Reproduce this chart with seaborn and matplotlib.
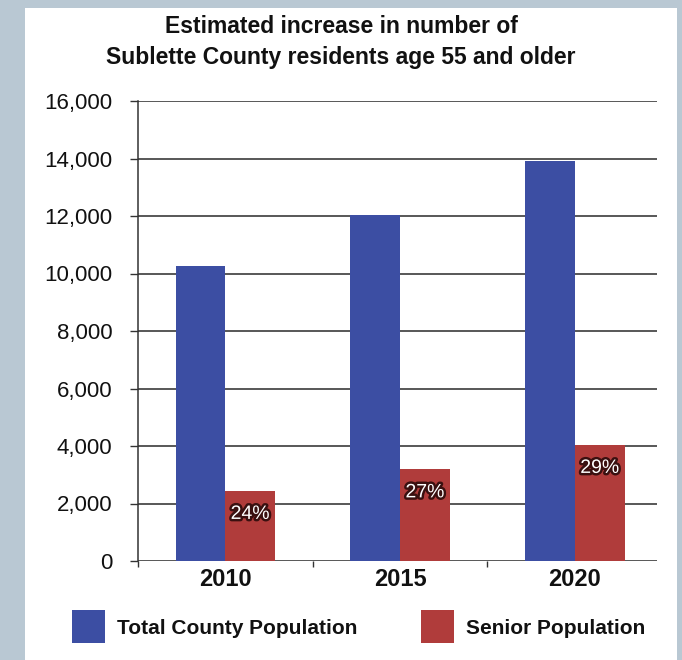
import seaborn as sns
import matplotlib.pyplot as plt
import matplotlib.patheffects as pe
from matplotlib.patches import Rectangle
import pandas as pd

years = ['2010', '2015', '2020']
total_pop = [10250, 12050, 13900]
senior_pop = [2450, 3200, 4050]
senior_pct = ['24%', '27%', '29%']
series_names = ['Total County Population', 'Senior Population']
y_ticks = [0, 2000, 4000, 6000, 8000, 10000, 12000, 14000, 16000]

df = pd.DataFrame({
    'year': years * 2,
    'value': total_pop + senior_pop,
    'series': [series_names[0]] * 3 + [series_names[1]] * 3,
})

sns.set_style('white')
plt.rcParams['font.family'] = ['Liberation Sans', 'DejaVu Sans']
plt.rcParams['text.color'] = '#111111'
plt.rcParams['xtick.color'] = '#111111'
plt.rcParams['ytick.color'] = '#111111'

fig = plt.figure(figsize=(6.82, 6.6), dpi=100)
fig.patch.set_facecolor('#b9c8d3')
# white card on the grey-blue page
fig.patches.append(Rectangle((25 / 682, 0), 652 / 682, 652 / 660,
                             transform=fig.transFigure, facecolor='white',
                             edgecolor='none', zorder=-10))

ax = fig.add_axes([138 / 682, 1 - 561 / 660, (657 - 138) / 682, (561 - 101) / 660])
ax.set_facecolor('none')

palette = {series_names[0]: '#3c4ea3', series_names[1]: '#b03c3b'}
sns.barplot(data=df, x='year', y='value', hue='series', palette=palette,
            width=0.57, saturation=1, ax=ax, legend=False, zorder=3,
            linewidth=0, edgecolor='none')

ax.set_xlim(-0.5, 2.47)
ax.set_ylim(0, 16000)
ax.set_yticks(y_ticks)
ax.set_yticklabels([f'{v:,}' for v in y_ticks], fontsize=16)
ax.yaxis.grid(True, color='#2a2a2a', linewidth=1.1, zorder=0)
ax.set_axisbelow(True)

ax.set_xticks([0, 1, 2])
ax.set_xticklabels(years, fontsize=17, fontweight='bold')
ax.set_xticks([-0.5, 0.5, 1.5], minor=True)
ax.tick_params(axis='x', which='major', length=0, pad=5)
ax.tick_params(axis='x', which='minor', bottom=True, length=4, width=1,
               direction='out', color='#333333')
ax.tick_params(axis='y', left=True, length=5.5, width=1, direction='out',
               color='#333333', pad=13)
ax.set_xlabel('')
ax.set_ylabel('')

for s in ['top', 'right', 'bottom']:
    ax.spines[s].set_visible(False)
ax.spines['left'].set_color('#333333')
ax.spines['left'].set_linewidth(1.1)

# percent labels inside the senior bars
red_bars = ax.containers[1]
for bar, pct in zip(red_bars, senior_pct):
    ax.text(bar.get_x() + bar.get_width() / 2, bar.get_height() - 830, pct,
            ha='center', va='center', color='white', fontsize=14, zorder=5,
            path_effects=[pe.withStroke(linewidth=3.5, foreground='#3a1010')])

fig.suptitle('Estimated increase in number of\nSublette County residents age 55 and older',
             y=0.978, fontsize=16.5, fontweight='bold', linespacing=1.45)

# legend drawn as squares + labels
for x0, name in [(72, series_names[0]), (421, series_names[1])]:
    fig.patches.append(Rectangle((x0 / 682, 1 - 643 / 660), 33 / 682, 33 / 660,
                                 transform=fig.transFigure, facecolor=palette[name],
                                 edgecolor='none'))
    fig.text((x0 + 45) / 682, 1 - 628 / 660, name, ha='left', va='center',
             fontsize=15, fontweight='bold')

plt.savefig('out.png', dpi=100)
